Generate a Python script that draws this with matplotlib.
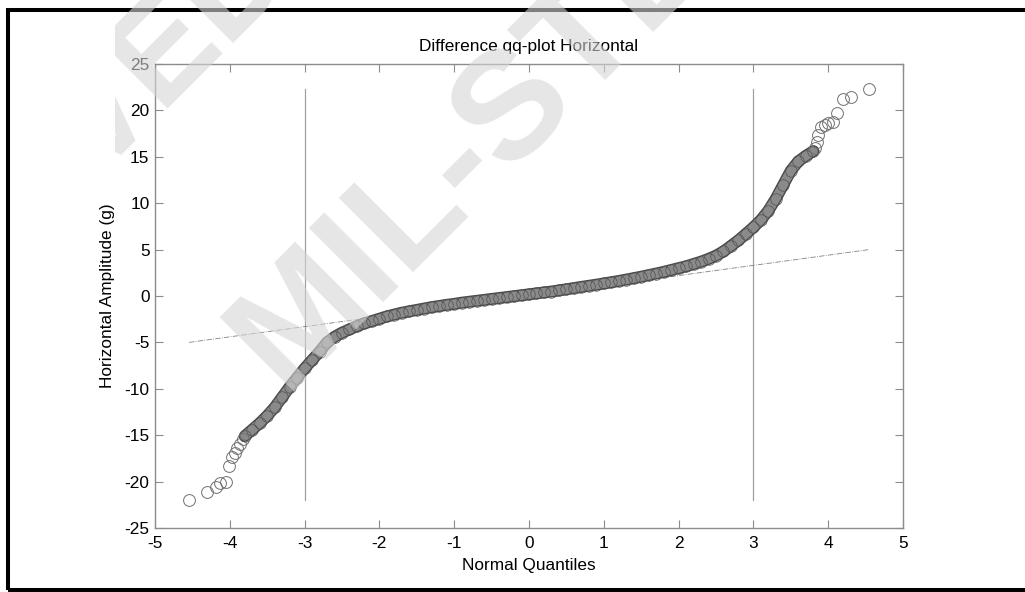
import matplotlib
matplotlib.use("Agg")
import matplotlib.pyplot as plt
from matplotlib.patches import Rectangle

plt.rcParams['font.family'] = ['Liberation Sans', 'DejaVu Sans']
plt.rcParams['axes.unicode_minus'] = False

# dense middle part of the qq curve
band_x = [-3.8, -3.7, -3.6, -3.5, -3.4, -3.3, -3.2, -3.1, -3.0, -2.9,
          -2.8, -2.7, -2.6, -2.5, -2.4, -2.3, -2.2, -2.1, -2.0, -1.9,
          -1.8, -1.7, -1.6, -1.5, -1.4, -1.3, -1.2, -1.1, -1.0, -0.9,
          -0.8, -0.7, -0.6, -0.5, -0.4, -0.3, -0.2, -0.1, 0.0, 0.1,
          0.2, 0.3, 0.4, 0.5, 0.6, 0.7, 0.8, 0.9, 1.0, 1.1,
          1.2, 1.3, 1.4, 1.5, 1.6, 1.7, 1.8, 1.9, 2.0, 2.1,
          2.2, 2.3, 2.4, 2.5, 2.6, 2.7, 2.8, 2.9, 3.0, 3.1,
          3.2, 3.3, 3.4, 3.5, 3.6, 3.7, 3.8]
band_y = [-15.1, -14.4, -13.7, -12.9, -12.0, -10.9, -9.8, -8.8, -7.8, -6.9,
          -6.0, -5.0, -4.4, -3.95, -3.6, -3.25, -2.95, -2.7, -2.45, -2.2,
          -2.0, -1.8, -1.65, -1.5, -1.35, -1.2, -1.08, -0.95, -0.85, -0.72,
          -0.62, -0.52, -0.42, -0.32, -0.22, -0.12, -0.02, 0.08, 0.18, 0.28,
          0.38, 0.48, 0.6, 0.72, 0.85, 0.98, 1.1, 1.22, 1.35, 1.48,
          1.62, 1.77, 1.92, 2.08, 2.25, 2.42, 2.6, 2.8, 3.0, 3.2,
          3.45, 3.7, 4.0, 4.35, 4.8, 5.4, 6.0, 6.7, 7.4, 8.2,
          9.2, 10.5, 12.0, 13.5, 14.5, 15.1, 15.6]

# single circles in the tails
low_x = [-4.545, -4.31, -4.19, -4.13, -4.05, -4.01, -3.97, -3.93, -3.90, -3.86, -3.83]
low_y = [-22.0, -21.1, -20.6, -20.1, -20.0, -18.3, -17.3, -16.9, -16.4, -15.9, -15.4]
high_x = [3.82, 3.85, 3.87, 3.91, 3.96, 4.00, 4.07, 4.12, 4.20, 4.31, 4.545]
high_y = [16.0, 16.6, 17.3, 18.2, 18.4, 18.6, 18.7, 19.7, 21.2, 21.4, 22.3]

# fitted reference line and the +/-3 quantile markers
ref_x = [-4.545, 4.545]
ref_y = [-5.0, 5.0]
limit_x = [-3, 3]
data_min = -22.0
data_max = 22.3

W, H = 1025, 592
fig = plt.figure(figsize=(W / 100, H / 100), dpi=100)
ax = fig.add_axes([155 / W, 1 - 528 / H, 748 / W, 464 / H])

for lx in limit_x:
    ax.plot([lx, lx], [data_min, data_max], color='#a0a0a0', lw=0.9, zorder=1)
ax.plot(ref_x, ref_y, color='#808080', lw=0.6, ls='-.', zorder=1)

# dense band: overlapping circles drawn over a thick stroke
ax.plot(band_x, band_y, color='#4a4a4a', lw=8.6, solid_capstyle='round', zorder=2)
ax.plot(band_x, band_y, color='#8a8a8a', lw=6.6, solid_capstyle='round', zorder=3)
ax.plot(band_x, band_y, ls='none', marker='o', ms=8.3, mfc='none',
        mec='#505050', mew=0.5, zorder=4)
ax.plot(low_x, low_y, ls='none', marker='o', ms=8.5, mfc='none',
        mec='#707070', mew=0.7, zorder=4)
ax.plot(high_x, high_y, ls='none', marker='o', ms=8.5, mfc='none',
        mec='#707070', mew=0.7, zorder=4)

ax.set_xlim(-5, 5)
ax.set_ylim(-25, 25)
ax.set_xticks(range(-5, 6))
ax.set_yticks(range(-25, 26, 5))
ax.tick_params(direction='in', length=5.8, width=0.8, color='#8c8c8c',
               top=True, right=True, labelsize=12.4)
ax.tick_params(axis='x', pad=6)
ax.tick_params(axis='y', pad=4)
for s in ax.spines.values():
    s.set_color('#8c8c8c')
    s.set_linewidth(1.0)

ax.set_title('Difference qq-plot Horizontal', fontsize=12.4, pad=9)
ax.set_xlabel('Normal Quantiles', fontsize=12.4, labelpad=5)
ax.set_ylabel('Horizontal Amplitude (g)', fontsize=12.4, labelpad=6.5)

# black frame round the figure
fig.patches.append(Rectangle((8 / W, 1 - 590 / H), 1.1, 580 / H,
                             transform=fig.transFigure, fill=False,
                             edgecolor='black', lw=2.9, zorder=10))

# watermark, clipped on its left side like the scan
clip = Rectangle((115 / W, 0), 1, 1, transform=fig.transFigure)
wm1 = fig.text(475 / W, 1 - 145 / H, 'MIL-STD', fontsize=110, fontweight='bold',
               rotation=45, color='#d5d5d5', alpha=0.6, ha='center', va='center',
               rotation_mode='anchor', zorder=20)
wm2 = fig.text(272 / W, 1 + 50 / H, 'ARCHIVED', fontsize=100, fontweight='bold',
               rotation=45, color='#d5d5d5', alpha=0.6, ha='right', va='center',
               rotation_mode='anchor', zorder=20)
for t in (wm1, wm2):
    t.set_clip_path(clip)

fig.savefig('out.png', dpi=100)
